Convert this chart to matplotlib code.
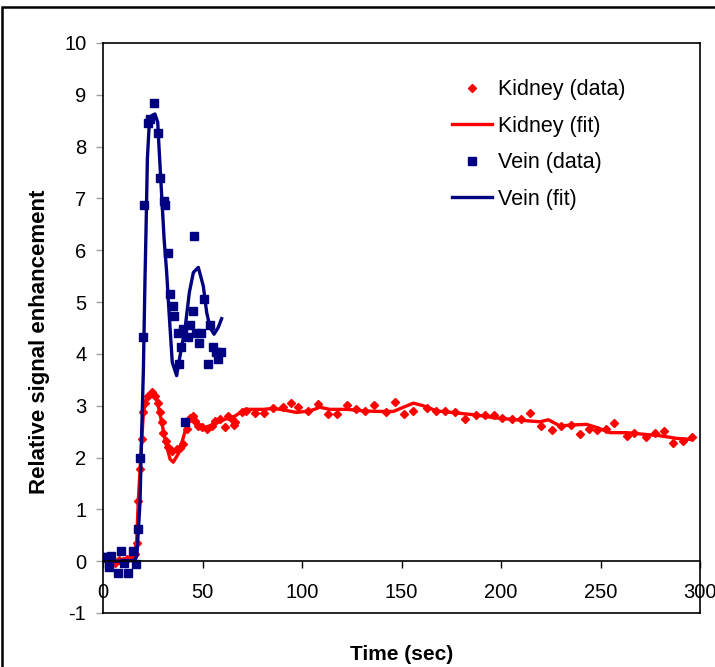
import matplotlib
matplotlib.use('Agg')
import matplotlib.pyplot as plt
from matplotlib.patches import Rectangle

plt.rcParams['font.family'] = ['Liberation Sans', 'DejaVu Sans']
plt.rcParams['axes.unicode_minus'] = False

# kidney data (time in sec, relative enhancement)
kidney_t = [2, 4, 6, 8, 10, 12, 14.7, 16, 16.9, 17.7, 18.6, 19.4, 20.3, 21.1,
            22.8, 24.5, 26.1, 27.5, 28.6, 29.5, 30.3, 31.5, 32.8, 34.8, 37,
            38.7, 40.4, 42.0, 43.7, 45.0, 46.2, 47.9, 49.6, 52.1, 54.6, 56.3,
            58.8, 61.3, 63, 64.7, 65.8, 66.3, 69.7, 71.9, 76.4, 80.9, 85.6,
            90.3, 94.3, 98.1, 103.2, 108.2, 112.9, 117.4, 122.5, 127.1, 131.7,
            136.3, 142, 146.7, 151.3, 156, 162.7, 167.3, 171.9, 176.9, 181.9,
            187.4, 192, 196.6, 200.7, 205.4, 209.9, 214.6, 219.9, 225.5, 230.2,
            235.2, 239.7, 244.4, 248.1, 252.8, 256.8, 263.2, 267, 272.7, 277.4,
            281.9, 286.6, 291.3, 296.1]
kidney_v = [0.02, -0.04, -0.03, 0.03, 0.0, 0.04, 0.07, 0.14, 0.36, 1.16, 1.78,
            2.36, 2.87, 3.06, 3.19, 3.26, 3.19, 3.06, 2.87, 2.68, 2.48, 2.32,
            2.20, 2.13, 2.16, 2.19, 2.26, 2.55, 2.77, 2.80, 2.71, 2.61, 2.58,
            2.55, 2.61, 2.71, 2.74, 2.58, 2.81, 2.74, 2.63, 2.68, 2.87, 2.89,
            2.86, 2.86, 2.95, 2.97, 3.05, 2.97, 2.89, 3.03, 2.84, 2.84, 3.02,
            2.93, 2.89, 3.02, 2.87, 3.08, 2.84, 2.89, 2.95, 2.89, 2.89, 2.87,
            2.75, 2.82, 2.82, 2.82, 2.77, 2.75, 2.75, 2.85, 2.60, 2.54, 2.60,
            2.63, 2.45, 2.56, 2.53, 2.55, 2.66, 2.41, 2.48, 2.39, 2.48, 2.52,
            2.29, 2.32, 2.39]

# kidney fit
kfit_t = [0, 5, 8, 12, 15, 16.9, 17.7, 19.1, 20.3, 22, 24.5, 27, 29.5, 31.5,
          33.7, 35.3, 37.8, 40.4, 42.9, 45.4, 47.9, 51.3, 56.3, 61.3, 66.3,
          71.4, 80.6, 85.6, 90.6, 97.3, 104, 109, 114, 122.6, 131, 137.5,
          145.9, 150.9, 156, 160.9, 167.7, 177.7, 187.8, 196.1, 212.9, 219.6,
          223.8, 229.6, 236.3, 243, 248.1, 254.8, 263.2, 271.5, 280, 288.3, 295]
kfit_v = [0.0, 0.0, -0.02, 0.03, 0.08, 0.36, 1.14, 2.10, 2.87, 3.19, 3.26,
          3.13, 2.68, 2.29, 1.97, 1.91, 2.07, 2.39, 2.74, 2.77, 2.65, 2.58,
          2.65, 2.74, 2.80, 2.93, 2.93, 2.95, 2.92, 2.87, 2.90, 2.97, 2.93,
          2.93, 2.90, 2.89, 2.89, 2.97, 3.05, 3.00, 2.90, 2.86, 2.82, 2.77,
          2.71, 2.69, 2.73, 2.61, 2.63, 2.64, 2.58, 2.48, 2.48, 2.45, 2.42,
          2.37, 2.35]

# vein data
vein_t = [0.0, 1.7, 3.2, 4.0, 7.4, 9.0, 10.7, 12.7, 14.9, 16.6, 17.4, 18.6,
          20.3, 20.8, 22.5, 23.6, 25.8, 27.6, 28.8, 30.6, 31.2, 32.8, 33.7,
          35.0, 35.7, 37.5, 38.3, 39.0, 40.4, 41.2, 42.9, 43.7, 45.1, 45.7,
          46.7, 48.4, 49.2, 50.9, 52.9, 53.8, 55.4, 56.6, 57.9, 59.1]
vein_v = [0.09, 0.09, -0.12, 0.10, -0.22, 0.20, -0.03, -0.22, 0.20, -0.06,
          0.62, 2.0, 4.32, 6.88, 8.45, 8.53, 8.85, 8.26, 7.39, 6.95, 6.87,
          5.95, 5.15, 4.92, 4.74, 4.40, 3.80, 4.13, 4.49, 2.69, 4.32, 4.56,
          4.83, 6.27, 4.40, 4.22, 4.40, 5.06, 3.80, 4.56, 4.14, 4.04, 3.90, 4.04]

# vein fit
vfit_t = [0, 4, 8, 12, 16, 17, 18.6, 19.4, 20.3, 21.1, 21.6, 22.3, 23.1, 24.5,
          26.1, 27.5, 28.1, 29.5, 30.7, 32.0, 33.2, 34.8, 37.0, 38.7, 41.2,
          43.4, 45.4, 47.9, 50.4, 52.1, 53.8, 55.8, 57.9, 59.6]
vfit_v = [0.0, 0.0, 0.0, 0.0, 0.02, 0.1, 1.14, 2.42, 3.71, 5.44, 6.35, 7.76,
          8.34, 8.60, 8.63, 8.47, 8.02, 7.05, 6.22, 5.57, 4.80, 3.84, 3.58,
          3.96, 4.48, 5.19, 5.57, 5.67, 5.31, 4.80, 4.51, 4.38, 4.51, 4.68]

fig = plt.figure(figsize=(7.15, 6.67), dpi=100)
ax = fig.add_axes([103/715, 1-613/667, 597/715, 570/667])

red = '#FF0000'
navy = '#000080'

ax.plot(kidney_t, kidney_v, 'D', color=red, markersize=4.5, label='Kidney (data)')
ax.plot(kfit_t, kfit_v, '-', color=red, lw=2.4, label='Kidney (fit)')
ax.plot(vein_t, vein_v, 's', color=navy, markersize=5.5, label='Vein (data)')
ax.plot(vfit_t, vfit_v, '-', color=navy, lw=2.4, label='Vein (fit)')

ax.set_xlim(0, 300)
ax.set_ylim(-1, 10)
ax.set_xticks(range(0, 301, 50))
ax.set_yticks(range(-1, 11))

# excel style: horizontal axis crosses at 0, plot area framed
ax.spines['bottom'].set_position(('data', 0))
ax.axhline(-1, color='black', lw=1.2, clip_on=False)
for s in ['left', 'right', 'top', 'bottom']:
    ax.spines[s].set_color('black')
    ax.spines[s].set_linewidth(1.2)

ax.tick_params(axis='x', direction='out', length=5, width=1, pad=11,
               labelsize=14.5, color='black')
ax.tick_params(axis='y', direction='out', length=5, width=1, pad=7,
               labelsize=14.5, color='#a0a0a0', labelcolor='black')

fig.text(40/715, 1-342/667, 'Relative signal enhancement', rotation=90,
         fontsize=16, fontweight='bold', ha='center', va='center')
fig.text(402/715, 1-655/667, 'Time (sec)', fontsize=15, fontweight='bold',
         ha='center', va='center')

ax.legend(loc='upper left', bbox_to_anchor=(0.5846, 0.936), frameon=False,
          fontsize=15.5, handlelength=1.85, handletextpad=0.3, labelspacing=0.72,
          borderpad=0, borderaxespad=0, numpoints=1)

# border round the whole chart
fig.patches.append(Rectangle((2/715, -0.05), 1.1, 1-7/667+0.05,
                             transform=fig.transFigure, fill=False,
                             lw=1.8, ec='black'))

fig.savefig('out.png', dpi=100)
